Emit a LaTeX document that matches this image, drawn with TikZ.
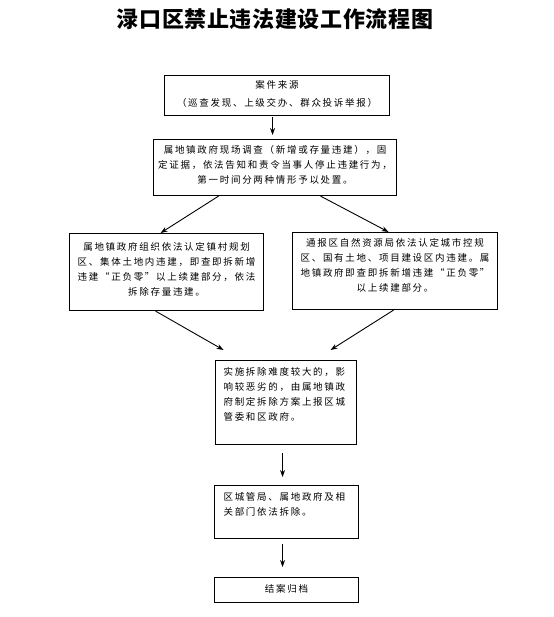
\documentclass[tikz,border=0pt]{standalone}
\usepackage{fontspec}
\setmainfont{Noto Sans CJK SC}
\newfontfamily\bodyfont[LetterSpace=18]{Noto Sans CJK SC}
\newfontfamily\titlefont[LetterSpace=3]{Noto Sans CJK SC}
\usetikzlibrary{arrows.meta}
\newcommand{\bxtext}[5]{\parbox[c][#2][t]{#1}{\vspace*{#3}#4\bodyfont\fontsize{9.5pt}{15pt}\selectfont #5\par}}
\begin{document}
\begin{tikzpicture}[x=1pt,y=-1pt,
  box/.style={draw,line width=1.1pt,inner xsep=#1,inner ysep=0pt,anchor=north west},
  box/.default=4pt,
  arr/.style={line width=0.9pt,-{Stealth[length=7pt,width=5pt]}}]
\useasboundingbox (0,0) rectangle (553,617);
\node[font=\titlefont\bfseries\fontsize{22pt}{26pt}\selectfont] (title) at (275,19) {渌口区禁止违法建设工作流程图};
\node[box] (b1) at (164,75) {\bxtext{217pt}{40pt}{5pt}{\centering}{案件来源\\[3pt]（巡查发现、上级交办、群众投诉举报）}};
\node[box] (b2) at (153,139) {\bxtext{235pt}{56pt}{6pt}{\centering}{属地镇政府现场调查（新增或存量违建），固\\定证据，依法告知和责令当事人停止违建行为，\\第一时间分两种情形予以处置。}};
\node[box] (b3) at (69,233) {\bxtext{186pt}{77pt}{9pt}{\centering}{属地镇政府组织依法认定镇村规划\\区、集体土地内违建，即查即拆新增\\违建“正负零”以上续建部分，依法\\拆除存量违建。}};
\node[box] (b4) at (292,232) {\bxtext{197pt}{77pt}{6pt}{\centering}{通报区自然资源局依法认定城市控规\\区、国有土地、项目建设区内违建。属\\地镇政府即查即拆新增违建“正负零”\\以上续建部分。}};
\node[box=8pt] (b5) at (215,360) {\bxtext{125pt}{84pt}{7pt}{\raggedright}{实施拆除难度较大的，影\\响较恶劣的，由属地镇政\\府制定拆除方案上报区城\\管委和区政府。}};
\node[box=9pt] (b6) at (214,485) {\bxtext{126pt}{53pt}{7pt}{\raggedright}{区城管局、属地政府及相\\关部门依法拆除。}};
\node[box] (b7) at (214,577) {\bxtext{136pt}{25pt}{7pt}{\centering}{结案归档}};
\draw[arr,shorten <=1pt,shorten >=4pt] ([xshift=-4.5pt]b1.south) -- ([xshift=-4.5pt]b1.south |- b2.north);
\draw[arr] ([xshift=-56.5pt]b2.south) -- ([xshift=-6pt]b3.north);
\draw[arr] ([xshift=45.5pt]b2.south) -- ([xshift=-6.5pt]b4.north);
\draw[arr] ([xshift=-11pt]b3.south) -- ([xshift=-62.5pt,yshift=10pt]b5.north);
\draw[arr] ([xshift=-1.5pt]b4.south) -- ([xshift=44.5pt,yshift=10pt]b5.north);
\draw[arr,shorten <=8pt,shorten >=8pt] ([xshift=-3.5pt]b5.south) -- ([xshift=-3.5pt]b5.south |- b6.north);
\draw[arr,shorten <=5pt,shorten >=10pt] ([xshift=-4pt]b6.south) -- ([xshift=-4pt]b6.south |- b7.north);
\end{tikzpicture}
\end{document}
